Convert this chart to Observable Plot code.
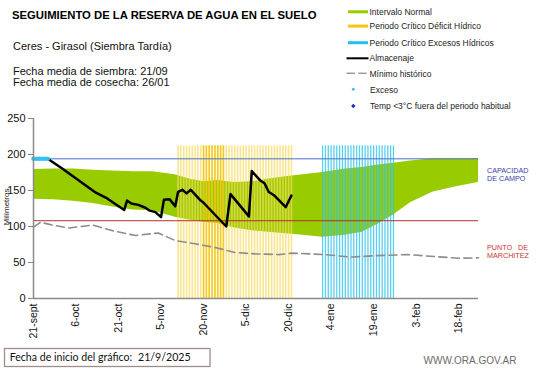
<!DOCTYPE html>
<html><head><meta charset="utf-8">
<script src="https://cdn.jsdelivr.net/npm/d3@7"></script>
<script src="https://cdn.jsdelivr.net/npm/@observablehq/plot@0.6"></script>
<style>
body{margin:0;background:#fff;}
#wrap{position:relative;width:541px;height:368px;overflow:hidden;background:#fff;}
#chart{position:absolute;left:0;top:0;}
#over{position:absolute;left:0;top:0;pointer-events:none;}
</style></head><body>
<div id="wrap"><div id="chart"></div>
<svg id="over" width="541" height="368" font-family="Liberation Sans, Arial, sans-serif">
  <text x="12" y="18.5" font-size="11.3" font-weight="bold">SEGUIMIENTO DE LA RESERVA DE AGUA  EN EL SUELO</text>
  <text x="13" y="49.5" font-size="11" fill="#111">Ceres - Girasol (Siembra Tardía)</text>
  <text x="13" y="74.5" font-size="11" fill="#111">Fecha media de siembra: 21/09</text>
  <text x="13" y="86" font-size="11" fill="#111">Fecha media de cosecha: 26/01</text>

  <rect x="348" y="10.3" width="20" height="3" fill="#99cc00"/>
  <text x="369.5" y="14.5" font-size="8.5" fill="#222">Intervalo Normal</text>
  <rect x="348" y="24.6" width="20" height="3" fill="#f5c518"/>
  <text x="369.5" y="29" font-size="8.5" fill="#222">Periodo Crítico Déficit Hídrico</text>
  <rect x="348" y="41.2" width="20" height="3" fill="#22c0ee"/>
  <text x="369.5" y="45.5" font-size="8.5" fill="#222">Periodo Crítico Excesos Hídricos</text>
  <line x1="346.5" x2="368.5" y1="58.3" y2="58.3" stroke="#000" stroke-width="2"/>
  <text x="369.5" y="61.3" font-size="8.5" fill="#222">Almacenaje</text>
  <line x1="346.5" x2="355" y1="73.3" y2="73.3" stroke="#999" stroke-width="1.5"/>
  <line x1="358.3" x2="366.7" y1="73.3" y2="73.3" stroke="#999" stroke-width="1.5"/>
  <text x="369.5" y="76.5" font-size="8.5" fill="#222">Mínimo histórico</text>
  <circle cx="353.3" cy="89.3" r="1.4" fill="#33bbee"/>
  <text x="370" y="92.5" font-size="8.5" fill="#222">Exceso</text>
  <path d="M353.3,103.8 L355.5,106 L353.3,108.2 L351.1,106 Z" fill="#1a2fbf"/>
  <text x="370" y="109.2" font-size="8.5" fill="#222">Temp &lt;3°C fuera del periodo habitual</text>

  <text transform="translate(8.7,207) rotate(-90)" text-anchor="middle" font-size="8" fill="#222">Milímetros</text>

  <text x="487" y="172.7" font-size="7.2" fill="#3c3ca8">CAPACIDAD</text>
  <text x="487" y="180.5" font-size="7.2" fill="#3c3ca8">DE</text>
  <text x="499" y="180.5" font-size="7.2" fill="#3c3ca8">CAMPO</text>
  <text x="487" y="249.5" font-size="7.2" fill="#cc3333">PUNTO</text>
  <text x="518" y="249.5" font-size="7.2" fill="#cc3333">DE</text>
  <text x="487" y="257.5" font-size="7.2" fill="#cc3333">MARCHITEZ</text>

  <rect x="4.5" y="348.5" width="205.5" height="18" fill="#fff" stroke="#a08c8c" stroke-width="1.3"/>
  <text x="9.7" y="361" font-size="10.6" font-family="Lato, 'Open Sans', sans-serif" fill="#111">Fecha de inicio del gráfico:</text>
  <text x="138" y="361" font-size="10.6" font-family="Lato, 'Open Sans', sans-serif" fill="#111">21/9/2025</text>
  <text x="423.5" y="364" font-size="10" fill="#6b6b6b">WWW.ORA.GOV.AR</text>
</svg>
</div>
<script>
// ---- data ----
const tickDays = [0, 15, 30, 45, 60, 75, 90, 105, 120, 135, 150];
const tickLabels = ["21-sept","6-oct","21-oct","5-nov","20-nov","5-dic","20-dic","4-ene","19-ene","3-feb","18-feb"];
const yTicks = [0, 50, 100, 150, 200, 250];

const capacity = 194;      // capacidad de campo (mm)
const wiltingPoint = 108;  // punto de marchitez (mm)
const periodBarTop = 212;  // altura de las barras de periodo crítico (mm)

const bandDays  = [0, 7, 14, 21, 28, 35, 42, 50, 55, 60, 65, 71, 77, 83, 89, 95, 102, 110, 116, 121, 127, 133, 141, 150, 157];
const bandUpper = [179, 180, 180, 178, 177, 176, 176, 172, 166, 162, 164, 161, 162, 166, 169, 172, 175, 180, 182, 185, 188, 191, 194, 194, 194];
const bandLower = [138, 137, 135, 132, 127, 123, 122, 113, 109, 106, 104, 98, 94, 92, 90, 88, 85, 88, 92, 102, 116, 133, 148, 156, 161];

const storageDays = [5, 10, 16, 22, 26, 32, 33, 34.5, 37, 39.5, 41, 43, 45, 46, 48, 50, 51, 52.5, 54, 55.5, 59, 60, 68, 69.5, 76, 77, 80, 81.5, 83, 85, 89, 91];
const storageVals = [194, 181, 164, 147, 139, 123, 136, 132, 130, 126, 122, 120, 113, 137, 138, 128, 148, 151, 146, 151, 136, 133, 100, 145, 114, 177, 164, 160, 148, 143, 127, 143];

const minDays = [0, 2.5, 6.5, 12.5, 21, 28, 36, 44, 50, 57, 64, 71, 78, 87, 91, 103, 112, 121, 132, 142.5, 150, 157];
const minVals = [99, 106, 102, 98, 102, 94, 87.5, 91, 80.5, 76, 71, 64, 62, 61, 63, 61, 57.5, 59.5, 61, 58, 56, 56.5];

const excessDays = [0, 1, 2, 3, 4, 5];
const excessVals = [194, 194, 194, 194, 194, 194];

const deficitDays = d3.range(51, 92);     // 11-nov .. 20-dic
const deficitPeakDays = d3.range(60, 68); // tramo más intenso
const excessPeriodDays = d3.range(102, 128); // 1-ene .. 26-ene

// ---- chart ----
const chart = Plot.plot({
  width: 541, height: 368,
  marginLeft: 33, marginRight: 63, marginTop: 118, marginBottom: 70,
  style: {fontFamily: "Liberation Sans, Arial, sans-serif", background: "transparent", color: "#111"},
  x: {domain: [0, 157], axis: null},
  y: {domain: [0, 250], axis: null},
  marks: [
    Plot.areaY(bandDays, {x: d => d, y1: (d, i) => bandLower[i], y2: (d, i) => bandUpper[i], fill: "#99cc00"}),
    Plot.ruleX(deficitDays, {x: d => d, y1: 0, y2: periodBarTop, stroke: "#f6dc60", strokeWidth: 1.6, strokeOpacity: 0.7}),
    Plot.ruleX(deficitPeakDays, {x: d => d, y1: 0, y2: periodBarTop, stroke: "#f2c200", strokeWidth: 1.6, strokeOpacity: 0.75}),
    Plot.ruleX(excessPeriodDays, {x: d => d, y1: 0, y2: periodBarTop, stroke: "#30c4ec", strokeWidth: 1.3, strokeOpacity: 0.8}),
    Plot.ruleY([capacity], {stroke: "#4a6fc8", strokeWidth: 1}),
    Plot.ruleY([wiltingPoint], {stroke: "#b03030", strokeWidth: 1}),
    Plot.line(minDays, {x: d => d, y: (d, i) => minVals[i], stroke: "#8c8c8c", strokeWidth: 1.6, strokeDasharray: "8,4.5"}),
    Plot.line(storageDays, {x: d => d, y: (d, i) => storageVals[i], stroke: "#000", strokeWidth: 2.5, strokeLinejoin: "round"}),
    Plot.dot(excessDays, {x: d => d, y: (d, i) => excessVals[i], r: 2.3, fill: "#33c3ea", stroke: "none"}),
    Plot.ruleX([0], {y1: 0, y2: 250, stroke: "#8a8a8a", strokeWidth: 1.5}),
    Plot.ruleY([0], {stroke: "#8a8a8a", strokeWidth: 1.5}),
    Plot.axisY({ticks: yTicks, tickSize: 5, tickPadding: 3, fontSize: 11, stroke: "#8a8a8a", fill: "#111"}),
    Plot.axisX({ticks: tickDays, tickFormat: d => tickLabels[tickDays.indexOf(d)], tickRotate: -90, tickSize: 0, tickPadding: 5, fontSize: 10.5, fill: "#111"})
  ]
});
document.getElementById("chart").appendChild(chart);
</script>
</body></html>
